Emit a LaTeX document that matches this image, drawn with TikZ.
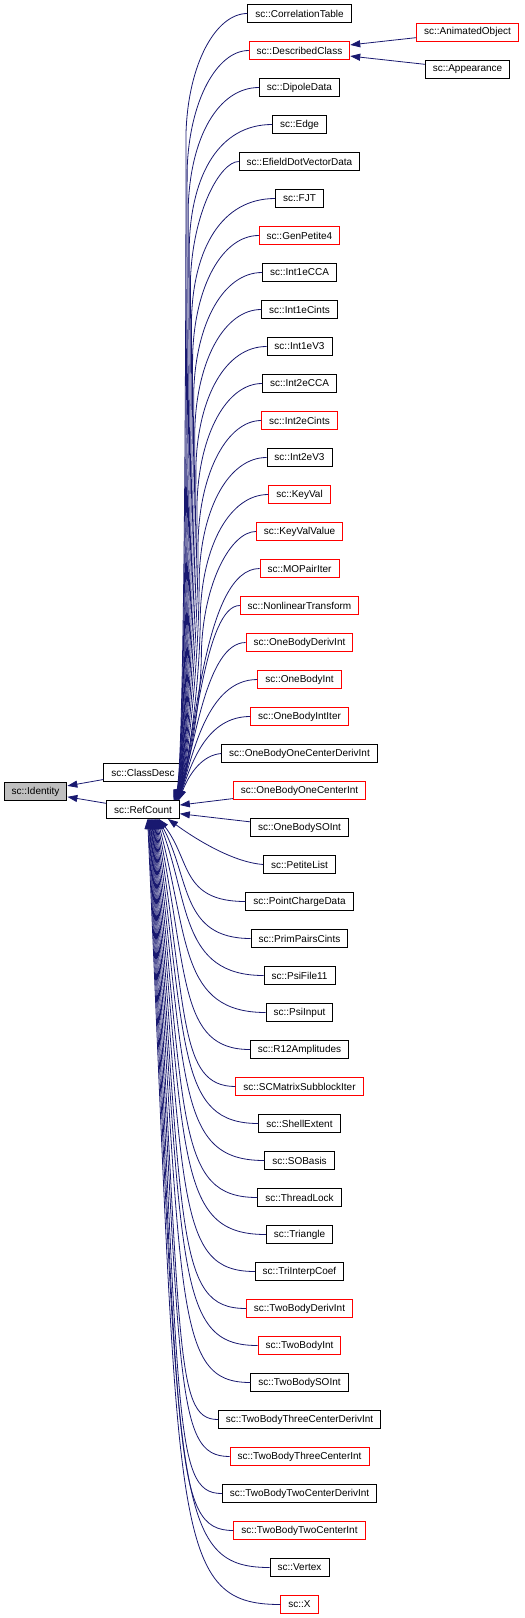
\documentclass[tikz,border=0pt]{standalone}
\usepackage{fontspec}
\setmainfont{Liberation Sans}
\usetikzlibrary{arrows.meta}
\definecolor{edgeblue}{RGB}{25,25,112}
\definecolor{rootgray}{RGB}{191,191,191}
\begin{document}
\begin{tikzpicture}[x=1pt, y=1pt,
  classbox/.style={draw, line width=0.9pt, minimum height=18pt, inner xsep=7.5pt, inner ysep=0pt,
    font=\fontsize{10pt}{12pt}\selectfont},
  partialbox/.style={classbox, draw=red},
  rootbox/.style={classbox, fill=rootgray},
  inheritarrow/.style={-{Triangle[length=10pt,width=7pt]}, draw=edgeblue, line width=0.8pt}
]
  \useasboundingbox (0,0) rectangle (525,-1618);

  \node[rootbox] (identity) at (35.5,-791.5) {sc::Identity};
  \node[classbox] (classdesc) at (143,-772.5) {sc::ClassDesc};
  \node[classbox] (refcount) at (143,-809.5) {sc::RefCount};
  \node[partialbox] (animatedobject) at (467.5,-32) {sc::AnimatedObject};
  \node[classbox] (appearance) at (467.5,-69) {sc::Appearance};

  \node[classbox] (correlationtable) at (299.5,-13.5) {sc::CorrelationTable};
  \node[partialbox] (describedclass) at (299.5,-50.5) {sc::DescribedClass};
  \node[classbox] (dipoledata) at (299.5,-87.5) {sc::DipoleData};
  \node[classbox] (edge) at (299.5,-124.5) {sc::Edge};
  \node[classbox] (efielddotvectordata) at (299.5,-161.5) {sc::EfieldDotVectorData};
  \node[classbox] (fjt) at (299.5,-198.5) {sc::FJT};
  \node[partialbox] (genpetite4) at (299.5,-235.5) {sc::GenPetite4};
  \node[classbox] (int1ecca) at (299.5,-272.5) {sc::Int1eCCA};
  \node[classbox] (int1ecints) at (299.5,-309.5) {sc::Int1eCints};
  \node[classbox] (int1ev3) at (299.5,-346.5) {sc::Int1eV3};
  \node[classbox] (int2ecca) at (299.5,-383.5) {sc::Int2eCCA};
  \node[partialbox] (int2ecints) at (299.5,-420.5) {sc::Int2eCints};
  \node[classbox] (int2ev3) at (299.5,-457.5) {sc::Int2eV3};
  \node[partialbox] (keyval) at (299.5,-494.5) {sc::KeyVal};
  \node[partialbox] (keyvalvalue) at (299.5,-531.5) {sc::KeyValValue};
  \node[partialbox] (mopairiter) at (299.5,-568.5) {sc::MOPairIter};
  \node[partialbox] (nonlineartransform) at (299.5,-605.5) {sc::NonlinearTransform};
  \node[partialbox] (onebodyderivint) at (299.5,-642.5) {sc::OneBodyDerivInt};
  \node[partialbox] (onebodyint) at (299.5,-679.5) {sc::OneBodyInt};
  \node[partialbox] (onebodyintiter) at (299.5,-716.5) {sc::OneBodyIntIter};
  \node[classbox] (onebodyonecenterderivint) at (299.5,-753.5) {sc::OneBodyOneCenterDerivInt};
  \node[partialbox] (onebodyonecenterint) at (299.5,-790.5) {sc::OneBodyOneCenterInt};
  \node[classbox] (onebodysoint) at (299.5,-827.5) {sc::OneBodySOInt};
  \node[classbox] (petitelist) at (299.5,-864.5) {sc::PetiteList};
  \node[classbox] (pointchargedata) at (299.5,-901.5) {sc::PointChargeData};
  \node[classbox] (primpairscints) at (299.5,-938.5) {sc::PrimPairsCints};
  \node[classbox] (psifile11) at (299.5,-975.5) {sc::PsiFile11};
  \node[classbox] (psiinput) at (299.5,-1012.5) {sc::PsiInput};
  \node[classbox] (r12amplitudes) at (299.5,-1049.5) {sc::R12Amplitudes};
  \node[partialbox] (scmatrixsubblockiter) at (299.5,-1086.5) {sc::SCMatrixSubblockIter};
  \node[classbox] (shellextent) at (299.5,-1123.5) {sc::ShellExtent};
  \node[classbox] (sobasis) at (299.5,-1160.5) {sc::SOBasis};
  \node[classbox] (threadlock) at (299.5,-1197.5) {sc::ThreadLock};
  \node[classbox] (triangle) at (299.5,-1234.5) {sc::Triangle};
  \node[classbox] (triinterpcoef) at (299.5,-1271.5) {sc::TriInterpCoef};
  \node[partialbox] (twobodyderivint) at (299.5,-1308.5) {sc::TwoBodyDerivInt};
  \node[partialbox] (twobodyint) at (299.5,-1345.5) {sc::TwoBodyInt};
  \node[classbox] (twobodysoint) at (299.5,-1382.5) {sc::TwoBodySOInt};
  \node[classbox] (twobodythreecenterderivint) at (299.5,-1419.5) {sc::TwoBodyThreeCenterDerivInt};
  \node[partialbox] (twobodythreecenterint) at (299.5,-1456.5) {sc::TwoBodyThreeCenterInt};
  \node[classbox] (twobodytwocenterderivint) at (299.5,-1493.5) {sc::TwoBodyTwoCenterDerivInt};
  \node[partialbox] (twobodytwocenterint) at (299.5,-1530.5) {sc::TwoBodyTwoCenterInt};
  \node[classbox] (vertex) at (299.5,-1567.5) {sc::Vertex};
  \node[partialbox] (x) at (299.5,-1604.5) {sc::X};

  \draw[inheritarrow] (classdesc) -- (identity);
  \draw[inheritarrow] (refcount) -- (identity);
  \draw[inheritarrow] (animatedobject) -- (describedclass);
  \draw[inheritarrow] (appearance) -- (describedclass);

  \draw[inheritarrow] (correlationtable.west) .. controls (216,-13.5) and (188,-63.5) .. (186,-133.5)
    .. controls (186,-420.5) and (183.5,-772) .. ([xshift=30.5]refcount.north);
  \draw[inheritarrow] (describedclass.west) .. controls (217.1,-50.5) and (189.1,-100.5) .. (187.1,-170.5)
    .. controls (187.1,-441.5) and (183.8,-772) .. ([xshift=30.8]refcount.north);
  \draw[inheritarrow] (dipoledata.west) .. controls (218.2,-87.5) and (190.2,-137.5) .. (188.2,-207.5)
    .. controls (188.2,-461.5) and (184,-772) .. ([xshift=31]refcount.north);
  \draw[inheritarrow] (edge.west) .. controls (219.3,-124.5) and (191.3,-174.5) .. (189.3,-244.5)
    .. controls (189.3,-481.5) and (184.3,-772) .. ([xshift=31.3]refcount.north);
  \draw[inheritarrow] (efielddotvectordata.west) .. controls (220.4,-161.5) and (192.4,-211.5) .. (190.4,-281.5)
    .. controls (190.4,-502.5) and (184.6,-772) .. ([xshift=31.6]refcount.north);
  \draw[inheritarrow] (fjt.west) .. controls (221.5,-198.5) and (193.5,-248.5) .. (191.5,-318.5)
    .. controls (191.5,-522.5) and (184.9,-772) .. ([xshift=31.9]refcount.north);
  \draw[inheritarrow] (genpetite4.west) .. controls (222.6,-235.5) and (194.6,-285.5) .. (192.6,-355.5)
    .. controls (192.6,-542.5) and (185.1,-772) .. ([xshift=32.1]refcount.north);
  \draw[inheritarrow] (int1ecca.west) .. controls (223.7,-272.5) and (195.7,-322.5) .. (193.7,-392.5)
    .. controls (193.7,-563.5) and (185.4,-772) .. ([xshift=32.4]refcount.north);
  \draw[inheritarrow] (int1ecints.west) .. controls (224.8,-309.5) and (196.8,-359.5) .. (194.8,-429.5)
    .. controls (194.8,-583.5) and (185.7,-772) .. ([xshift=32.7]refcount.north);
  \draw[inheritarrow] (int1ev3.west) .. controls (225.9,-346.5) and (197.9,-396.5) .. (195.9,-466.5)
    .. controls (195.9,-603.5) and (185.9,-772) .. ([xshift=32.9]refcount.north);
  \draw[inheritarrow] (int2ecca.west) .. controls (227,-383.5) and (199,-433.5) .. (197,-503.5)
    .. controls (197,-624.5) and (186.2,-772) .. ([xshift=33.2]refcount.north);
  \draw[inheritarrow] (int2ecints.west) .. controls (228.1,-420.5) and (200.1,-470.5) .. (198.1,-540.5)
    .. controls (198.1,-644.5) and (186.5,-772) .. ([xshift=33.5]refcount.north);
  \draw[inheritarrow] (int2ev3.west) .. controls (229.2,-457.5) and (201.2,-507.5) .. (199.2,-577.5)
    .. controls (199.2,-665.5) and (186.7,-772) .. ([xshift=33.7]refcount.north);
  \draw[inheritarrow] (keyval.west) .. controls (230.3,-494.5) and (202.3,-544.5) .. (200.3,-614.5)
    .. controls (200.3,-685.5) and (187,-772) .. ([xshift=34]refcount.north);
  \draw[inheritarrow] (keyvalvalue.west) .. controls (231.4,-531.5) and (203.4,-581.5) .. (201.4,-651.5)
    .. controls (201.4,-705.5) and (187.3,-772) .. ([xshift=34.3]refcount.north);
  \draw[inheritarrow] (mopairiter.west) .. controls (204,-568.5) and (196,-740) .. ([xshift=34.6]refcount.north);
  \draw[inheritarrow] (nonlineartransform.west) .. controls (205,-605.5) and (195,-745) .. ([xshift=34.8]refcount.north);
  \draw[inheritarrow] (onebodyderivint.west) .. controls (206,-642.5) and (194,-750) .. ([xshift=35.1]refcount.north);
  \draw[inheritarrow] (onebodyint.west) .. controls (207,-679.5) and (193,-755) .. ([xshift=35.4]refcount.north);
  \draw[inheritarrow] (onebodyintiter.west) .. controls (207,-716.5) and (192,-762) .. ([xshift=35.6]refcount.north);
  \draw[inheritarrow] (onebodyonecenterderivint.west) .. controls (203,-755) and (190,-772) .. ([xshift=35.9]refcount.north);
  \draw[inheritarrow] (onebodyonecenterint) -- (refcount);
  \draw[inheritarrow] (onebodysoint) -- (refcount);
  \draw[inheritarrow] (petitelist.west) .. controls (230,-862) and (190,-835) .. ([xshift=25]refcount.south);
  \draw[inheritarrow] (pointchargedata.west) .. controls (181,-901.5) and (191,-860.5) .. ([xshift=16]refcount.south);
  \draw[inheritarrow] (primpairscints.west) .. controls (180.4,-938.5) and (190.4,-878.5) .. ([xshift=15.4]refcount.south);
  \draw[inheritarrow] (psifile11.west) .. controls (179.8,-975.5) and (189.8,-900.5) .. ([xshift=14.8]refcount.south);
  \draw[inheritarrow] (psiinput.west) .. controls (179.2,-1012.5) and (189.2,-937.5) .. ([xshift=14.2]refcount.south);
  \draw[inheritarrow] (r12amplitudes.west) .. controls (178.6,-1049.5) and (188.6,-974.5) .. ([xshift=13.6]refcount.south);
  \draw[inheritarrow] (scmatrixsubblockiter.west) .. controls (178,-1086.5) and (188,-1011.5) .. ([xshift=13]refcount.south);
  \draw[inheritarrow] (shellextent.west) .. controls (177.4,-1123.5) and (187.4,-1048.5) .. ([xshift=12.4]refcount.south);
  \draw[inheritarrow] (sobasis.west) .. controls (176.8,-1160.5) and (186.8,-1085.5) .. ([xshift=11.8]refcount.south);
  \draw[inheritarrow] (threadlock.west) .. controls (176.2,-1197.5) and (186.2,-1122.5) .. ([xshift=11.2]refcount.south);
  \draw[inheritarrow] (triangle.west) .. controls (175.6,-1234.5) and (185.6,-1159.5) .. ([xshift=10.6]refcount.south);
  \draw[inheritarrow] (triinterpcoef.west) .. controls (175,-1271.5) and (185,-1196.5) .. ([xshift=10]refcount.south);
  \draw[inheritarrow] (twobodyderivint.west) .. controls (174.4,-1308.5) and (184.4,-1233.5) .. ([xshift=9.4]refcount.south);
  \draw[inheritarrow] (twobodyint.west) .. controls (173.8,-1345.5) and (183.8,-1270.5) .. ([xshift=8.8]refcount.south);
  \draw[inheritarrow] (twobodysoint.west) .. controls (173.2,-1382.5) and (183.2,-1307.5) .. ([xshift=8.2]refcount.south);
  \draw[inheritarrow] (twobodythreecenterderivint.west) .. controls (172.6,-1419.5) and (182.6,-1344.5) .. ([xshift=7.6]refcount.south);
  \draw[inheritarrow] (twobodythreecenterint.west) .. controls (172,-1456.5) and (182,-1381.5) .. ([xshift=7]refcount.south);
  \draw[inheritarrow] (twobodytwocenterderivint.west) .. controls (171.4,-1493.5) and (181.4,-1418.5) .. ([xshift=6.4]refcount.south);
  \draw[inheritarrow] (twobodytwocenterint.west) .. controls (170.8,-1530.5) and (180.8,-1455.5) .. ([xshift=5.8]refcount.south);
  \draw[inheritarrow] (vertex.west) .. controls (170.2,-1567.5) and (180.2,-1492.5) .. ([xshift=5.2]refcount.south);
  \draw[inheritarrow] (x.west) .. controls (169.6,-1604.5) and (179.6,-1529.5) .. ([xshift=4.6]refcount.south);
\end{tikzpicture}
\end{document}
